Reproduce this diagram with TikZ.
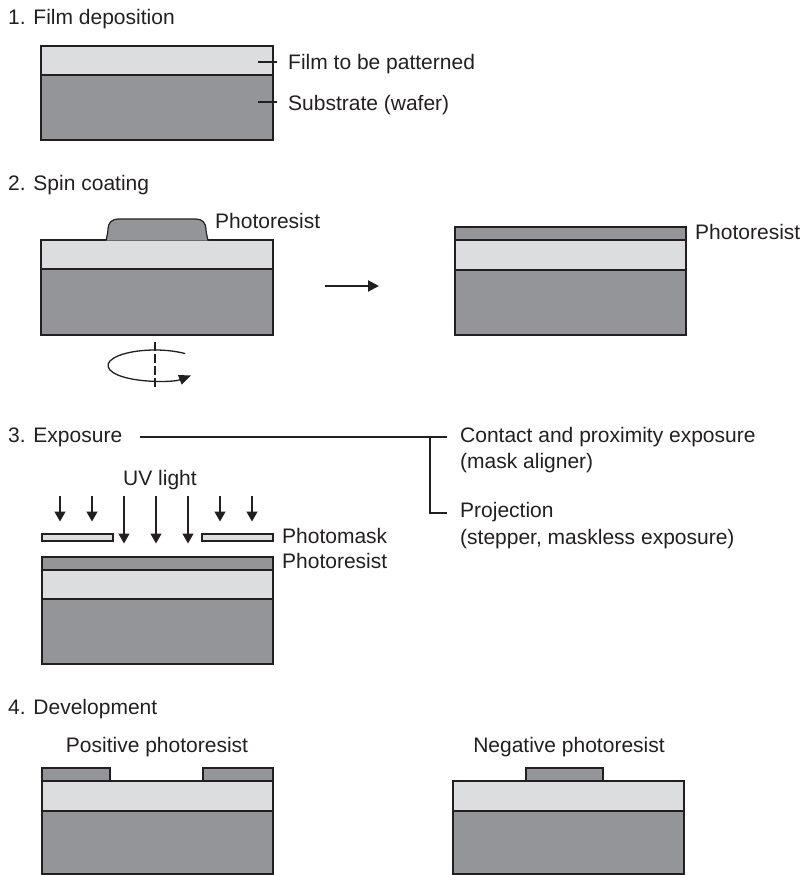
\documentclass[tikz,border=0pt]{standalone}
\usepackage{fontspec}
\setmainfont{Liberation Sans}
\usetikzlibrary{arrows.meta}
\definecolor{lgray}{HTML}{DCDDDF}
\definecolor{dgray}{HTML}{939598}
\definecolor{ink}{HTML}{231F20}
\tikzset{
  layer/.style={draw=ink, line width=1.2pt},
  film/.style={layer, fill=lgray},
  sub/.style={layer, fill=dgray},
  lbl/.style={anchor=base west, inner sep=0pt, font=\fontsize{21}{25}\selectfont, text=ink},
  clbl/.style={anchor=base, inner sep=0pt, font=\fontsize{21}{25}\selectfont, text=ink},
  wire/.style={draw=ink, line width=1.3pt},
  uvarr/.style={wire, -{Triangle[length=10pt,width=11pt]}},
}
\begin{document}
\begin{tikzpicture}[x=1pt,y=1pt]
\useasboundingbox (0,0) rectangle (804,-875);

% ---------- 1. Film deposition
\node[lbl] (t1) at (8,-25) {1. Film deposition};
\draw[sub]  (41,-75) rectangle (273,-140);
\draw[film] (41,-46) rectangle (273,-75);
\node[lbl] (filmlbl) at (288,-70) {Film to be patterned};
\node[lbl] (sublbl) at (288,-110) {Substrate (wafer)};
\coordinate (f1) at (258,-62);
\coordinate (f2) at (277,-62);
\coordinate (s1) at (258,-102);
\coordinate (s2) at (277,-102);
\draw[wire] (f1) -- (f2);
\draw[wire] (s1) -- (s2);

% ---------- 2. Spin coating
\node[lbl] (t2) at (8,-190) {2. Spin coating};
\draw[sub]  (41,-269) rectangle (273,-335);
\draw[film] (41,-240) rectangle (273,-269);
\draw[sub] (106,-240.5) .. controls (107,-236) and (108,-232) .. (108,-229)
  .. controls (108,-223) and (112,-219) .. (118,-219) -- (196,-219)
  .. controls (202,-219) and (206,-223) .. (206,-229)
  .. controls (206,-232) and (207,-236) .. (208,-240.5);
\node[lbl] (pr2a) at (215,-228) {Photoresist};
% rotation symbol
\coordinate (ax1) at (155,-342);
\coordinate (ax2) at (155,-388);
\draw[wire, dash pattern=on 9pt off 3pt] (ax1) -- (ax2);
\draw[wire, -{Triangle[length=12pt,width=10pt]}] (155,-365.5) ++(50:47 and 15.5)
  arc[start angle=50, end angle=320, x radius=47, y radius=15.5];
% process arrow
\coordinate (pa1) at (325,-286);
\coordinate (pa2) at (379,-286);
\draw[draw=ink, line width=2pt, -{Triangle[length=11pt,width=11pt]}] (pa1) -- (pa2);
% right stack
\draw[sub]  (455,-270) rectangle (686,-335);
\draw[film] (455,-240) rectangle (686,-270);
\draw[sub]  (455,-227) rectangle (686,-240);
\node[lbl] (pr2b) at (695,-239.5) {Photoresist};

% ---------- 3. Exposure
\node[lbl] (t3) at (8,-442) {3. Exposure};
\node[lbl] (contact) at (460,-442) {Contact and proximity exposure};
\node[lbl] (maskal) at (460,-468) {(mask aligner)};
\node[lbl] (proj) at (460,-517) {Projection};
\node[lbl] (stepper) at (460,-544) {(stepper, maskless exposure)};
\coordinate (e0) at (140,-437);
\coordinate (e1) at (430,-437);
\coordinate (e2) at (447,-437);
\coordinate (e3) at (430,-513);
\coordinate (e4) at (447,-513);
\draw[wire] (e0) -- (e2);
\draw[wire] (e1) -- (e3) -- (e4);

\node[clbl] (uv) at (160,-485) {UV light};
\foreach \x in {60,92,220,252} {
  \draw[uvarr] (\x,-496) -- (\x,-521.5);
}
\foreach \x in {124,156,188} {
  \draw[uvarr] (\x,-496) -- (\x,-543.5);
}
\draw[film, line width=1.1pt] (42,-534) rectangle (113,-541);
\draw[film, line width=1.1pt] (202,-534) rectangle (273,-541);
\node[lbl] (pm) at (282,-543) {Photomask};
\draw[sub]  (42,-599) rectangle (273,-664);
\draw[film] (42,-570) rectangle (273,-599);
\draw[sub]  (42,-557) rectangle (273,-570);
\node[lbl] (pr3) at (282,-568) {Photoresist};

% ---------- 4. Development
\node[lbl] (t4) at (8,-714) {4. Development};
\node[clbl] (pos) at (157,-752) {Positive photoresist};
\node[clbl] (neg) at (569,-752) {Negative photoresist};
% positive
\draw[sub]  (42,-811) rectangle (273,-874);
\draw[film] (42,-781) rectangle (273,-811);
\draw[sub]  (42,-768) rectangle (110,-781);
\draw[sub]  (203,-768) rectangle (273,-781);
% negative
\draw[sub]  (453,-811) rectangle (684,-874);
\draw[film] (453,-781) rectangle (684,-811);
\draw[sub]  (526,-768) rectangle (603,-781);
\end{tikzpicture}
\end{document}
